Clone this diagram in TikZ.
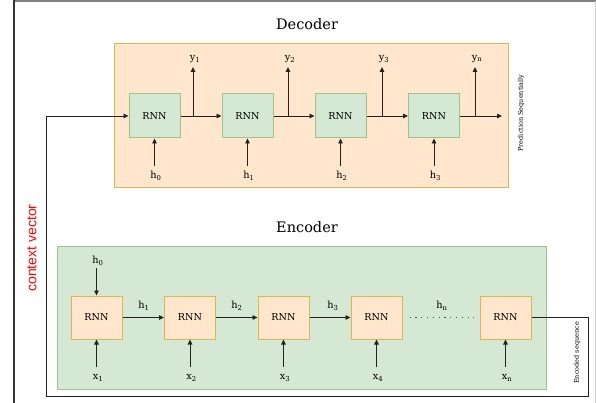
\documentclass[tikz,border=0pt]{standalone}
\usepackage{fontspec}
\setmainfont{DejaVu Serif}
\newfontfamily\sansf{Liberation Sans}
\usetikzlibrary{arrows.meta}
\definecolor{ofill}{HTML}{FFE6CC}
\definecolor{ostroke}{HTML}{E0B450}
\definecolor{gfill}{HTML}{D5E8D4}
\definecolor{gstroke}{HTML}{9AC48A}
\definecolor{linec}{HTML}{222222}
\tikzset{
  decpanel/.style={draw=ostroke, fill=ofill, line width=1pt, minimum width=394pt, minimum height=144pt, inner sep=0pt},
  encpanel/.style={draw=gstroke, fill=gfill, line width=1pt, minimum width=489pt, minimum height=143pt, inner sep=0pt},
  drnn/.style={draw=gstroke, fill=gfill, line width=1pt, minimum width=51pt, minimum height=44pt, inner sep=0pt, font=\fontsize{9.6}{11}\selectfont},
  ernn/.style={draw=ostroke, fill=ofill, line width=1pt, minimum width=51pt, minimum height=43pt, inner sep=0pt, font=\fontsize{9.6}{11}\selectfont},
  lab/.style={inner sep=0.5pt, font=\fontsize{9.8}{11}\selectfont},
  ttl/.style={inner sep=0pt, font=\fontsize{14.5}{17}\selectfont},
  vtxt/.style={inner sep=0pt, rotate=90, font=\fontsize{6.5}{8}\selectfont},
  arr/.style={draw=linec, line width=0.9pt, -{Triangle[length=5pt,width=4.5pt]}},
  conn/.style={draw=linec, line width=0.9pt},
}
\begin{document}
\begin{tikzpicture}[x=1pt,y=-1pt]
\useasboundingbox (0,0) rectangle (596,403);
% frame
\draw[draw=black!50, line width=1.6pt] (14,1) -- (596,1);
\draw[draw=black!80, line width=1.4pt] (14,0.5) -- (14,403);
\draw[draw=black!20, line width=1pt] (595,1) -- (595,403);
% titles
\node[ttl] (tdec) at (307,24) {Decoder};
\node[ttl] (tenc) at (307,227) {Encoder};
% panels
\node[decpanel] (dec) at (311,116) {};
\node[encpanel] (enc) at (301.5,317.5) {};
% decoder rnns
\node[drnn] (d1) at (154.5,116) {RNN};
\node[drnn] (d2) at (247.5,116) {RNN};
\node[drnn] (d3) at (340.5,116) {RNN};
\node[drnn] (d4) at (434,116) {RNN};
% decoder output branches
\coordinate (b1) at (193,116);
\coordinate (b2) at (288,116);
\coordinate (b3) at (382,116);
\coordinate (b4) at (475,116);
\coordinate (dend) at (502,116);
\coordinate (t1) at (193,67);
\coordinate (t2) at (288,67);
\coordinate (t3) at (382,67);
\coordinate (t4) at (475,67);
\node[lab] (y1) at (195,59) {y\textsubscript{1}};
\node[lab] (y2) at (290,59) {y\textsubscript{2}};
\node[lab] (y3) at (384,59) {y\textsubscript{3}};
\node[lab] (yn) at (477,59) {y\textsubscript{n}};
\draw[arr] (d1) -- (d2);
\draw[arr] (d2) -- (d3);
\draw[arr] (d3) -- (d4);
\draw[arr] (d4) -- (dend);
\draw[arr] (b1) -- (t1);
\draw[arr] (b2) -- (t2);
\draw[arr] (b3) -- (t3);
\draw[arr] (b4) -- (t4);
% decoder inputs
\node[lab] (dh0) at (156,176) {h\textsubscript{0}};
\node[lab] (dh1) at (249,176) {h\textsubscript{1}};
\node[lab] (dh2) at (342,176) {h\textsubscript{2}};
\node[lab] (dh3) at (435.5,176) {h\textsubscript{3}};
\coordinate (s1) at (154.5,166);
\coordinate (s2) at (247.5,166);
\coordinate (s3) at (340.5,166);
\coordinate (s4) at (434,166);
\draw[arr] (s1) -- (d1.south);
\draw[arr] (s2) -- (d2.south);
\draw[arr] (s3) -- (d3.south);
\draw[arr] (s4) -- (d4.south);
\node[vtxt] (pred) at (521,113) {Prediction Sequentially};
% encoder rnns
\node[ernn] (e1) at (96.5,317.5) {RNN};
\node[ernn] (e2) at (190,317.5) {RNN};
\node[ernn] (e3) at (283.5,317.5) {RNN};
\node[ernn] (e4) at (376.5,317.5) {RNN};
\node[ernn] (e5) at (505.5,317.5) {RNN};
\node[lab] (eh0) at (98,261) {h\textsubscript{0}};
\coordinate (eh0s) at (96.5,268);
\draw[arr] (eh0s) -- (e1.north);
\node[lab] (eh1) at (144,306) {h\textsubscript{1}};
\node[lab] (eh2) at (237,306) {h\textsubscript{2}};
\node[lab] (eh3) at (333,306) {h\textsubscript{3}};
\node[lab] (ehn) at (442,306) {h\textsubscript{n}};
\draw[arr] (e1) -- (e2);
\draw[arr] (e2) -- (e3);
\draw[arr] (e3) -- (e4);
\draw[draw=linec!80, line width=1.3pt, dash pattern=on 1.3pt off 4.5pt] ([xshift=7pt]e4.east) -- ([xshift=-6pt]e5.west);
% encoder inputs
\node[lab] (x1) at (98,378) {x\textsubscript{1}};
\node[lab] (x2) at (191.5,378) {x\textsubscript{2}};
\node[lab] (x3) at (285,378) {x\textsubscript{3}};
\node[lab] (x4) at (378,378) {x\textsubscript{4}};
\node[lab] (xn) at (507,378) {x\textsubscript{n}};
\coordinate (u1) at (96.5,367);
\coordinate (u2) at (190,367);
\coordinate (u3) at (283.5,367);
\coordinate (u4) at (376.5,367);
\coordinate (u5) at (505.5,367);
\draw[arr] (u1) -- (e1.south);
\draw[arr] (u2) -- (e2.south);
\draw[arr] (u3) -- (e3.south);
\draw[arr] (u4) -- (e4.south);
\draw[arr] (u5) -- (e5.south);
% context vector path
\coordinate (c1) at (588,317.5);
\coordinate (c2) at (588,396);
\coordinate (c3) at (46,396);
\coordinate (c4) at (46,116);
\draw[arr] (e5.east) -- (c1) -- (c2) -- (c3) -- (c4) -- (d1.west);
\node[vtxt] (encseq) at (577,353) {Encoded sequence};
\node[inner sep=0pt, rotate=90, text=red, font=\sansf\fontsize{14}{16}\selectfont] (ctx) at (32,248) {context vector};
\end{tikzpicture}
\end{document}
